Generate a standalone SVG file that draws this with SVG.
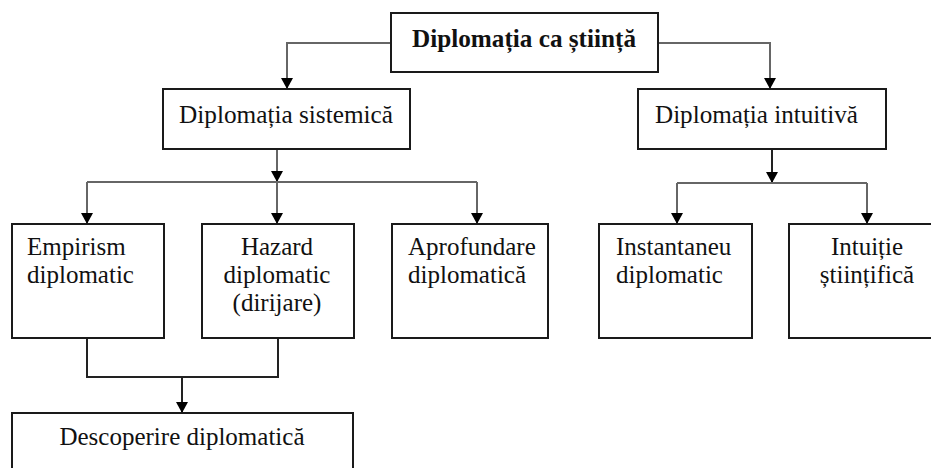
<svg xmlns="http://www.w3.org/2000/svg" width="931" height="468" viewBox="0 0 931 468">
<defs>
<style>
.box{fill:#fff;stroke:#1a1a1a;stroke-width:2}
text{font-family:"Liberation Serif","Times New Roman",serif;font-size:25px;fill:#111}
.b{font-weight:bold}
.c{fill:none;stroke:#666;stroke-width:2}
.k{fill:none;stroke:#222;stroke-width:2}
</style>
<marker id="ah" markerUnits="userSpaceOnUse" markerWidth="12" markerHeight="12" refX="11" refY="6" orient="auto">
<path d="M0,0 L11,6 L0,12 z" fill="#000"/>
</marker>
</defs>
<rect width="931" height="468" fill="#fff"/>
<g id="connectors">
<path class="c" d="M391,43 H287 V89" marker-end="url(#ah)"/>
<path class="c" d="M658,43 H770 V89" marker-end="url(#ah)"/>
<path class="c" d="M277,149 V182" marker-end="url(#ah)"/>
<path class="c" d="M87,182 H477"/>
<path class="c" d="M87,182 V224" marker-end="url(#ah)"/>
<path class="c" d="M277,182 V224" marker-end="url(#ah)"/>
<path class="c" d="M477,182 V224" marker-end="url(#ah)"/>
<path class="k" d="M772,149 V183" marker-end="url(#ah)"/>
<path class="c" d="M677,183 H867"/>
<path class="c" d="M677,183 V224" marker-end="url(#ah)"/>
<path class="c" d="M867,183 V224" marker-end="url(#ah)"/>
<path class="k" d="M87,338 V377 H278 V338"/>
<path class="k" d="M182,377 V413" marker-end="url(#ah)"/>
</g>
<g id="n-stiinta"><rect class="box" x="391" y="13" width="267" height="59"/><text class="b" x="524" y="47" text-anchor="middle" textLength="224" lengthAdjust="spacingAndGlyphs">Diplomația ca știință</text></g>
<g id="n-sistemica"><rect class="box" x="163" y="89" width="247" height="60"/><text x="179" y="123" textLength="214" lengthAdjust="spacingAndGlyphs">Diplomația sistemică</text></g>
<g id="n-intuitiva"><rect class="box" x="638" y="89" width="248" height="60"/><text x="655" y="123" textLength="203" lengthAdjust="spacingAndGlyphs">Diplomația intuitivă</text></g>
<g id="n-empirism"><rect class="box" x="12" y="224" width="152" height="114"/><text x="27" y="255">Empirism</text><text x="27" y="283">diplomatic</text></g>
<g id="n-hazard"><rect class="box" x="202" y="224" width="152" height="114"/><text x="277" y="255" text-anchor="middle">Hazard</text><text x="277" y="283" text-anchor="middle">diplomatic</text><text x="277" y="311" text-anchor="middle">(dirijare)</text></g>
<g id="n-aprofundare"><rect class="box" x="392" y="224" width="156" height="114"/><text x="408" y="255">Aprofundare</text><text x="408" y="283">diplomatică</text></g>
<g id="n-instantaneu"><rect class="box" x="599" y="224" width="153" height="114"/><text x="616" y="255">Instantaneu</text><text x="616" y="283">diplomatic</text></g>
<g id="n-intuitie"><rect class="box" x="789" y="224" width="150" height="114"/><text x="867" y="255" text-anchor="middle">Intuiție</text><text x="867" y="283" text-anchor="middle">științifică</text></g>
<g id="n-descoperire"><rect class="box" x="12" y="413" width="341" height="70"/><text x="182" y="445" text-anchor="middle">Descoperire diplomatică</text></g>
</svg>
